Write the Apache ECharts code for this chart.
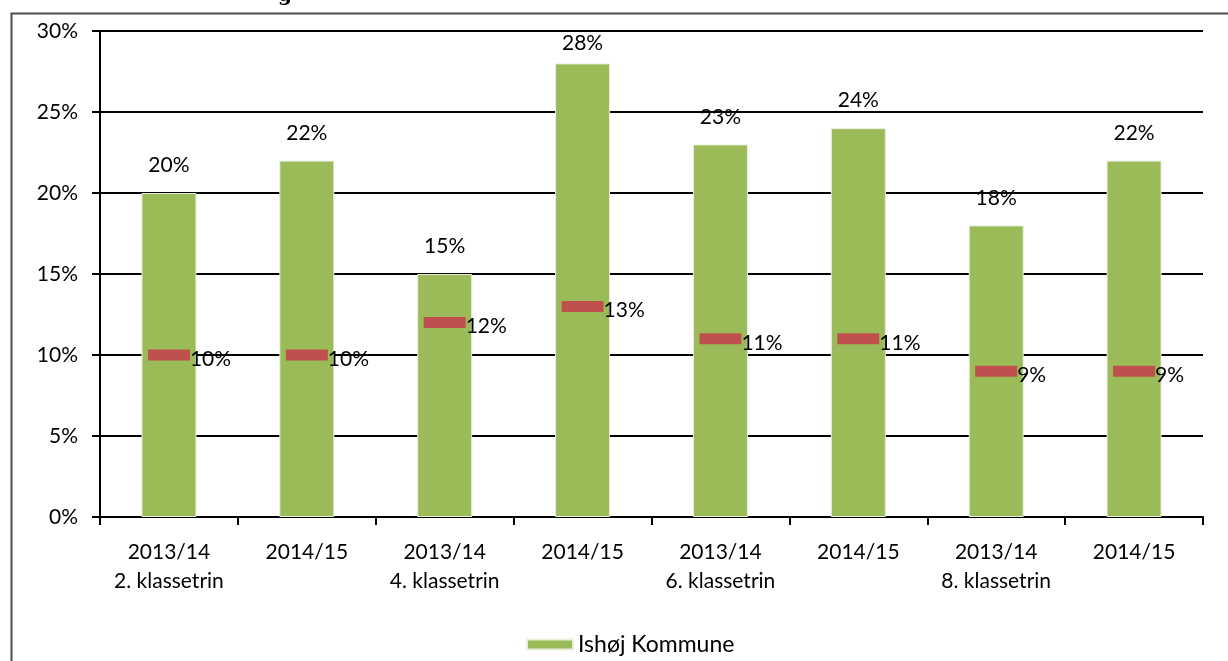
<!DOCTYPE html>
<html>
<head>
<meta charset="utf-8">
<script src="https://cdn.jsdelivr.net/npm/echarts@6/dist/echarts.min.js"></script>
<style>
html,body{margin:0;padding:0;background:#fff;}
#c{width:1228px;height:661px;}
</style>
</head>
<body>
<div id="c"></div>
<script>
const categories = ['2013/14\n2. klassetrin','2014/15','2013/14\n4. klassetrin','2014/15','2013/14\n6. klassetrin','2014/15','2013/14\n8. klassetrin','2014/15'];
const kommuneValues = [20, 22, 15, 28, 23, 24, 18, 22];
const landValues = [10, 10, 12, 13, 11, 11, 9, 9];
const yTicks = [0, 5, 10, 15, 20, 25, 30];

const FONT = 'Lato, "Open Sans", sans-serif';
const FS = 21;
const yMax = yTicks[yTicks.length-1];
// labels near the top of the plot are pushed down to stay inside it
const barData = kommuneValues.map(v => v > yMax - 3 ? {value: v, label: {distance: 10}} : v);

const chart = echarts.init(document.getElementById('c'), null, {renderer:'canvas'});
chart.setOption({
  animation: false,
  backgroundColor: '#fff',
  textStyle: {fontFamily: FONT},
  graphic: [
    {type:'rect', left: 9, top: 11, shape:{x:0,y:0,width:1260,height:700}, style:{fill:'none', stroke:'#4d4d4d', lineWidth:2}, z:-1},
    {type:'text', left: 278, top: -14, style:{text:'g', font:'bold 20px "DejaVu Serif", serif', fill:'#000'}}
  ],
  grid: {left: 100, right: 25, top: 31, bottom: 144},
  legend: {
    data: ['Ishøj Kommune'],
    bottom: 0,
    left: 521,
    itemWidth: 46, itemHeight: 10, itemGap: 5,
    icon: 'rect',
    textStyle: {fontSize: 23, color: '#000', fontFamily: FONT}
  },
  xAxis: {
    type: 'category',
    data: categories,
    axisLine: {lineStyle:{color:'#000', width:2}},
    axisTick: {show:true, length: 8, lineStyle:{color:'#000', width:2}},
    axisLabel: {color:'#000', fontSize:FS, lineHeight: 29, margin: 21, interval: 0, fontFamily: FONT}
  },
  yAxis: {
    type: 'value',
    min: yTicks[0], max: yMax, interval: 5,
    axisLine: {show:true, lineStyle:{color:'#000', width:2}},
    axisTick: {show:true, length: 8, lineStyle:{color:'#000', width:2}},
    axisLabel: {color:'#000', fontSize:FS, margin: 22, formatter: v => v + '%', fontFamily: FONT},
    splitLine: {lineStyle:{color:'#000', width:2}}
  },
  series: [
    {
      name: 'Ishøj Kommune',
      type: 'bar',
      data: barData,
      barWidth: 55,
      itemStyle: {color:'#9BBB59', borderColor:'#e8efdc', borderWidth:1},
      label: {show:true, position:'top', distance: 17, color:'#000', fontSize:FS, formatter: p => p.value + '%', fontFamily: FONT},
      z: 2
    },
    {
      name: 'Landsplan',
      type: 'scatter',
      data: landValues,
      symbol: 'rect',
      symbolSize: [42, 11],
      itemStyle: {color:'#C0504D', opacity: 1},
      label: {show:true, position:'right', distance: 0, offset:[0,4], color:'#000', fontSize:FS, formatter: p => p.value + '%', fontFamily: FONT},
      z: 3
    }
  ]
});
</script>
</body>
</html>
